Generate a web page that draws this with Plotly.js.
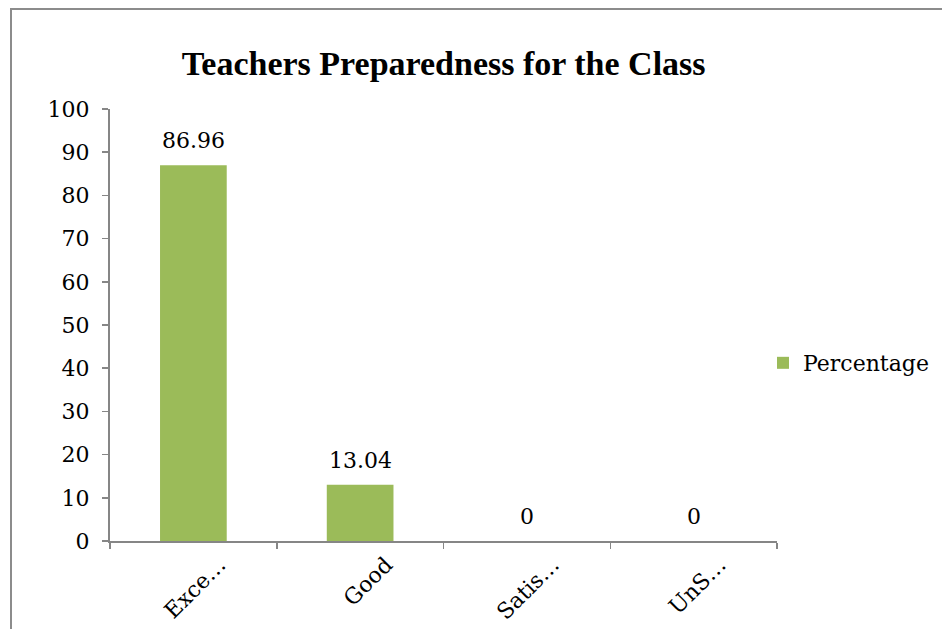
<!DOCTYPE html>
<html><head><meta charset="utf-8">
<script src="https://cdn.plot.ly/plotly-3.0.1.min.js"></script>
<style>
html,body{margin:0;padding:0;background:#fff;overflow:hidden;}
#frame{position:absolute;left:10px;top:8px;width:1000px;height:700px;border-left:2px solid #8c8c8c;border-top:2px solid #8c8c8c;}
#chart{position:absolute;left:0;top:0;width:942px;height:629px;}
</style></head>
<body>
<div id="frame"></div>
<div id="chart"></div>
<script>
var categories = ["Exce…", "Good", "Satis…", "UnS…"];
var percentages = [86.96, 13.04, 0, 0];
var valueLabels = ["86.96", "13.04", "0", "0"];
var seriesName = "Percentage";

var fontFam = "DejaVu Serif, serif";
var titleFam = "Liberation Serif, serif";
var trace = {
  type: "bar",
  x: categories,
  y: percentages,
  name: seriesName,
  marker: {color: "#9BBB59"},
  showlegend: true,
  hoverinfo: "none"
};
var annotations = categories.map(function (c, i) {
  return {x: c, y: percentages[i], xref: "x", yref: "y", text: valueLabels[i],
          showarrow: false, yanchor: "bottom", xanchor: "center", yshift: 10,
          font: {family: fontFam, size: 22, color: "#000"}};
});
var layout = {
  width: 942, height: 629,
  paper_bgcolor: "rgba(0,0,0,0)",
  plot_bgcolor: "rgba(0,0,0,0)",
  margin: {l: 110, r: 165, t: 109, b: 88, autoexpand: false},
  bargap: 0.6,
  annotations: annotations,
  title: {text: "<b>Teachers Preparedness for the Class</b>", x: 0.471, xanchor: "center", y: 0.9, yanchor: "middle",
          font: {family: titleFam, size: 34, color: "#000"}},
  xaxis: {
    type: "category", automargin: false,
    showline: true, linecolor: "#868686", linewidth: 2,
    ticks: "outside", tickson: "boundaries", ticklen: 6, tickcolor: "#868686", tickwidth: 1.5,
    tickangle: -45, ticklabelshift: 26,
    tickfont: {family: fontFam, size: 22, color: "#000"},
    showgrid: false, zeroline: false
  },
  yaxis: {
    range: [0, 100], dtick: 10, tick0: 0, automargin: false,
    showline: true, linecolor: "#868686", linewidth: 2,
    ticks: "outside", ticklen: 6, tickcolor: "#868686", tickwidth: 1.5,
    ticklabelstandoff: 8,
    tickfont: {family: fontFam, size: 22, color: "#000"},
    showgrid: false, zeroline: false
  },
  legend: {x: 0.979, xanchor: "left", y: 0.412, yanchor: "middle",
           font: {family: fontFam, size: 22, color: "#000"}, itemwidth: 30}
};
Plotly.newPlot("chart", [trace], layout, {displayModeBar: false, staticPlot: true});
</script>
</body></html>
